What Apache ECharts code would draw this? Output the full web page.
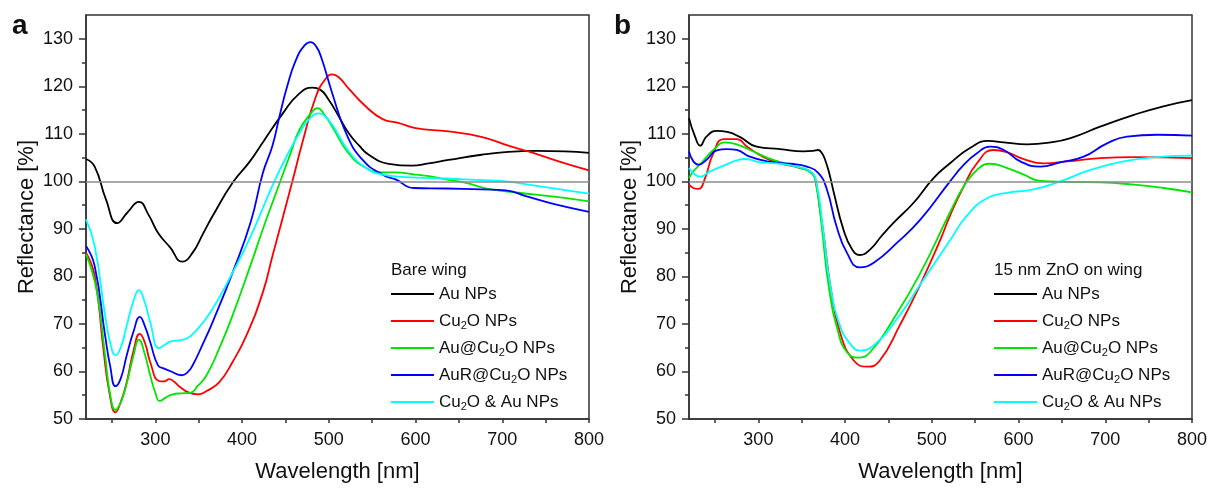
<!DOCTYPE html>
<html>
<head>
<meta charset="utf-8">
<script src="https://cdn.jsdelivr.net/npm/echarts@6/dist/echarts.min.js"></script>
<style>
  html, body { margin: 0; padding: 0; background: #fff; }
  #chart { width: 1211px; height: 488px; }
</style>
</head>
<body>
<div id="chart"></div>
<script>
// legend names, shared by both panels
const names = ['Au NPs', 'Cu2O NPs', 'Au@Cu2O NPs', 'AuR@Cu2O NPs', 'Cu2O & Au NPs'];
const panelLetters = ['a', 'b'];
const legendTitles = ['Bare wing', '15 nm ZnO on wing'];

const xLabelValues = [300, 400, 500, 600, 700, 800];
const xTickValues = [250, 300, 350, 400, 450, 500, 550, 600, 650, 700, 750, 800];
const yLabelValues = [50, 60, 70, 80, 90, 100, 110, 120, 130];
const yMinorValues = [55, 65, 75, 85, 95, 105, 115, 125];

// panel a: bare wing, [wavelength nm, reflectance %]
const auWing = [[220, 104.7], [230, 103.1], [243, 96.2], [256, 91.2], [268, 93.5], [281, 95.7], [292, 93], [303, 89.2], [317, 86.1], [331, 83.1], [343, 85], [355, 89], [366, 92.7], [389, 99.7], [409, 104.2], [425, 108.5], [447, 114.3], [465, 118.3], [481, 119.7], [490, 119.3], [500, 117.1], [512, 113.5], [523, 110.1], [535, 107.5], [546, 105.6], [569, 103.7], [596, 103.3], [615, 103.8], [638, 104.5], [676, 105.6], [707, 106.2], [740, 106.4], [772, 106.3], [800, 106]];
const cu2oWing = [[220, 85], [230, 80.1], [240, 64.8], [247, 55.5], [254, 51.4], [260, 53.5], [267, 57.8], [275, 64.5], [282, 67.9], [288, 66], [294, 62], [304, 58], [310, 57.9], [316, 58.4], [322, 57.8], [328, 56.8], [338, 55.6], [349, 55.2], [360, 56], [374, 57.8], [389, 62], [405, 67.6], [424, 76.7], [435, 84.3], [458, 100], [470, 108.5], [485, 117.8], [496, 121.5], [504, 122.5], [512, 121.8], [523, 119.5], [543, 115.7], [562, 113.1], [580, 112.3], [600, 111.2], [638, 110.5], [677, 109.3], [707, 107.5], [730, 106.3], [765, 104.2], [800, 102.3]];
const auCu2oWing = [[220, 84.7], [232, 77.3], [242, 63.4], [248, 55], [254, 51.9], [260, 53.5], [267, 57.5], [275, 63.5], [281, 66.7], [288, 63.5], [294, 59.2], [300, 55.5], [305, 53.8], [312, 54.5], [320, 55.2], [330, 55.4], [340, 55.5], [349, 57], [359, 59.2], [374, 65], [389, 71.8], [409, 82], [425, 90.5], [443, 99.5], [456, 106], [466, 110.8], [478, 114], [487, 115.4], [495, 114], [504, 111.5], [523, 105.9], [543, 102.8], [562, 101.9], [577, 101.9], [600, 101.4], [619, 101], [635, 100.4], [658, 99.7], [684, 98.4], [719, 97.6], [760, 96.8], [800, 95.8]];
const auRCu2oWing = [[220, 86.4], [230, 82.2], [242, 67.6], [248, 61], [254, 56.9], [260, 58.5], [267, 63.4], [275, 68.5], [282, 71.5], [288, 69.5], [294, 66.2], [303, 61.3], [310, 60.6], [317, 60.1], [330, 59.2], [337, 59.8], [343, 61.3], [354, 65.5], [366, 70.4], [389, 80.8], [410, 91.5], [424, 101.8], [435, 107.5], [443, 113.6], [452, 120], [462, 125.5], [472, 128.6], [479, 129.3], [485, 128.5], [491, 126.2], [504, 118.5], [520, 110.1], [539, 104.5], [562, 101.4], [577, 100.4], [598, 98.6], [635, 98.5], [676, 98.3], [704, 98.1], [727, 96.9], [760, 95.2], [800, 93.6]];
const cu2oAuWing = [[220, 92], [230, 86.4], [242, 71.8], [248, 66], [254, 63.4], [260, 65], [267, 69.7], [275, 75], [281, 77.1], [287, 75], [294, 70.4], [304, 64.9], [310, 65.5], [317, 66.3], [332, 66.7], [347, 68.6], [366, 73.2], [389, 80.8], [410, 88.5], [436, 99.5], [452, 105.5], [466, 110.1], [478, 113.2], [489, 114.3], [495, 113.8], [504, 111.9], [523, 106.3], [543, 102.8], [562, 101.4], [581, 101], [600, 100.8], [635, 100.6], [670, 100.3], [704, 100], [730, 99.3], [800, 97.4]];

// panel b: 15 nm ZnO on wing
const auZnO = [[220, 113.3], [227, 109.4], [233, 107.5], [240, 109.4], [252, 110.6], [264, 110.4], [279, 109.3], [298, 107.3], [325, 106.8], [352, 106.3], [363, 106.4], [369, 106.6], [373, 106], [377, 104.5], [382, 101.5], [387, 97.6], [398, 89.9], [408, 85.7], [417, 84.5], [429, 85.7], [442, 88.5], [456, 91.3], [479, 95.5], [502, 100.7], [521, 103.8], [544, 107], [565, 108.5], [583, 108.2], [610, 107.8], [637, 108.2], [660, 109.1], [694, 111.5], [733, 114], [767, 115.8], [800, 117.1]];
const cu2oZnO = [[220, 99.3], [225, 98.6], [231, 98.4], [238, 100.4], [248, 105.9], [260, 108.9], [275, 108.9], [287, 107.3], [306, 105.1], [325, 103.8], [348, 102.8], [362, 101.8], [367, 99], [371, 94], [375, 89.2], [383, 78], [394, 68.3], [410, 62.3], [426, 61], [440, 62.3], [463, 69.7], [487, 78.4], [510, 87.8], [521, 92.8], [537, 99], [552, 103.8], [571, 106.6], [587, 106.1], [606, 104.7], [629, 103.8], [656, 104.2], [694, 104.9], [733, 105.1], [800, 104.9]];
const auCu2oZnO = [[220, 100.7], [225, 102.1], [233, 103.6], [248, 106.6], [262, 108.2], [275, 107.8], [294, 106.3], [317, 104.5], [344, 103.1], [362, 101.6], [367, 99], [373, 90.6], [381, 78], [392, 68.3], [402, 64.1], [415, 62.9], [429, 64.1], [456, 71.1], [487, 80.8], [521, 93.5], [537, 99], [552, 102.4], [567, 103.7], [587, 102.8], [606, 101.4], [625, 100.1], [656, 99.9], [694, 99.8], [733, 99.3], [767, 98.6], [800, 97.7]];
const auRCu2oZnO = [[220, 106.3], [225, 104.2], [231, 103.5], [240, 104.5], [252, 106.5], [264, 106.8], [275, 106.6], [290, 105.2], [310, 104.2], [337, 103.7], [356, 103.1], [369, 101.8], [379, 98.3], [390, 90.6], [402, 85], [417, 81.9], [433, 82.9], [460, 87.1], [487, 92], [521, 100], [537, 103.5], [552, 105.9], [567, 107.3], [583, 106.6], [602, 104.2], [625, 103.1], [648, 104], [675, 105.2], [702, 108], [725, 109.4], [760, 109.8], [800, 109.6]];
const cu2oAuZnO = [[220, 102.8], [227, 101.4], [233, 101], [244, 102.1], [260, 103.3], [275, 104.4], [285, 104.7], [302, 104], [321, 103.8], [344, 103.1], [360, 102.1], [367, 99.7], [375, 89.2], [383, 78], [394, 69.7], [406, 65.8], [417, 64.4], [433, 65.5], [460, 71.1], [487, 78.4], [521, 87.6], [540, 92.7], [564, 96.5], [587, 97.6], [617, 98.3], [648, 100], [683, 102.4], [721, 104.2], [760, 105.1], [800, 105.4]];

const panels = [
  [auWing, cu2oWing, auCu2oWing, auRCu2oWing, cu2oAuWing],
  [auZnO, cu2oZnO, auCu2oZnO, auRCu2oZnO, cu2oAuZnO],
];

const FONT = '"Liberation Sans", Arial, sans-serif';
const TEXT = '#111';
const AXIS = '#333';
const colors = ['#000000', '#ff0000', '#00e600', '#0000ff', '#00ffff'];
const gridLeft = [86, 689];
const legendLeft = [391, 994];

const chart = echarts.init(document.getElementById('chart'), null, { renderer: 'canvas' });

const grid = gridLeft.map(left => ({
  left, top: 15, width: 503, height: 406,
  show: true, borderColor: AXIS, borderWidth: 1.5,
}));

const xAxis = gridLeft.map((_, i) => ({
  gridIndex: i,
  type: 'value',
  min: 220,
  max: 800,
  name: 'Wavelength [nm]',
  nameLocation: 'middle',
  nameGap: 42,
  nameTextStyle: { fontSize: 22, color: TEXT, fontFamily: FONT },
  axisLine: { show: true, onZero: false, lineStyle: { color: AXIS, width: 1.5 } },
  axisTick: { show: true, length: 4, customValues: xTickValues, lineStyle: { color: AXIS, width: 1.5 } },
  axisLabel: { customValues: xLabelValues, fontSize: 18, margin: 12, color: TEXT, fontFamily: FONT },
  splitLine: { show: false },
}));

const yAxis = [];
gridLeft.forEach((_, i) => {
  yAxis.push({
    gridIndex: i,
    type: 'value',
    position: 'left',
    min: 50,
    max: 135,
    name: 'Reflectance [%]',
    nameLocation: 'middle',
    nameGap: 48,
    nameTextStyle: { fontSize: 22, color: TEXT, fontFamily: FONT },
    axisLine: { show: true, onZero: false, lineStyle: { color: AXIS, width: 1.5 } },
    axisTick: { show: true, length: 7, customValues: yLabelValues, lineStyle: { color: AXIS, width: 1.5 } },
    axisLabel: { customValues: yLabelValues, fontSize: 18, margin: 13, color: TEXT, fontFamily: FONT },
    splitLine: { show: false },
  });
});
// second y axis per panel only for the short minor ticks
gridLeft.forEach((_, i) => {
  yAxis.push({
    gridIndex: i,
    type: 'value',
    position: 'left',
    offset: 0,
    min: 50,
    max: 135,
    axisLine: { show: false, onZero: false },
    axisTick: { show: true, length: 4, customValues: yMinorValues, lineStyle: { color: AXIS, width: 1.5 } },
    axisLabel: { show: false },
    splitLine: { show: false },
  });
});

const series = [];
panels.forEach((lines, p) => {
  lines.forEach((data, i) => {
    const s = {
      type: 'line',
      name: names[i],
      xAxisIndex: p,
      yAxisIndex: p,
      data,
      showSymbol: false,
      smooth: 0.5,
      silent: true,
      lineStyle: { color: colors[i], width: 1.8 },
      itemStyle: { color: colors[i] },
    };
    if (i === 0) {
      s.markLine = {
        silent: true,
        symbol: 'none',
        label: { show: false },
        lineStyle: { color: '#8c8c8c', width: 1.5, type: 'solid' },
        data: [{ yAxis: 100 }],
      };
    }
    series.push(s);
  });
});

const legend = legendLeft.map(left => ({
  orient: 'vertical',
  left,
  top: 284,
  padding: 0,
  data: names,
  selectedMode: false,
  icon: 'rect',
  itemWidth: 43,
  itemHeight: 2,
  itemGap: 7,
  formatter: n => n.replace('Cu2O', 'Cu{sub|2}O'),
  textStyle: {
    fontSize: 17,
    lineHeight: 20,
    color: TEXT,
    fontFamily: FONT,
    rich: {
      sub: { fontSize: 11, lineHeight: 12, verticalAlign: 'bottom', color: TEXT, fontFamily: FONT },
    },
  },
}));

const title = [
  ...panelLetters.map((t, i) => ({
    text: t, left: [12, 614][i], top: 12, padding: 0,
    textStyle: { fontSize: 28, fontWeight: 'bold', color: TEXT, fontFamily: FONT },
  })),
  ...legendTitles.map((t, i) => ({
    text: t, left: legendLeft[i], top: 262, padding: 0,
    textStyle: { fontSize: 17, fontWeight: 'normal', color: TEXT, fontFamily: FONT },
  })),
];

chart.setOption({
  animation: false,
  backgroundColor: '#fff',
  title,
  grid,
  xAxis,
  yAxis,
  legend,
  series,
});
</script>
</body>
</html>
